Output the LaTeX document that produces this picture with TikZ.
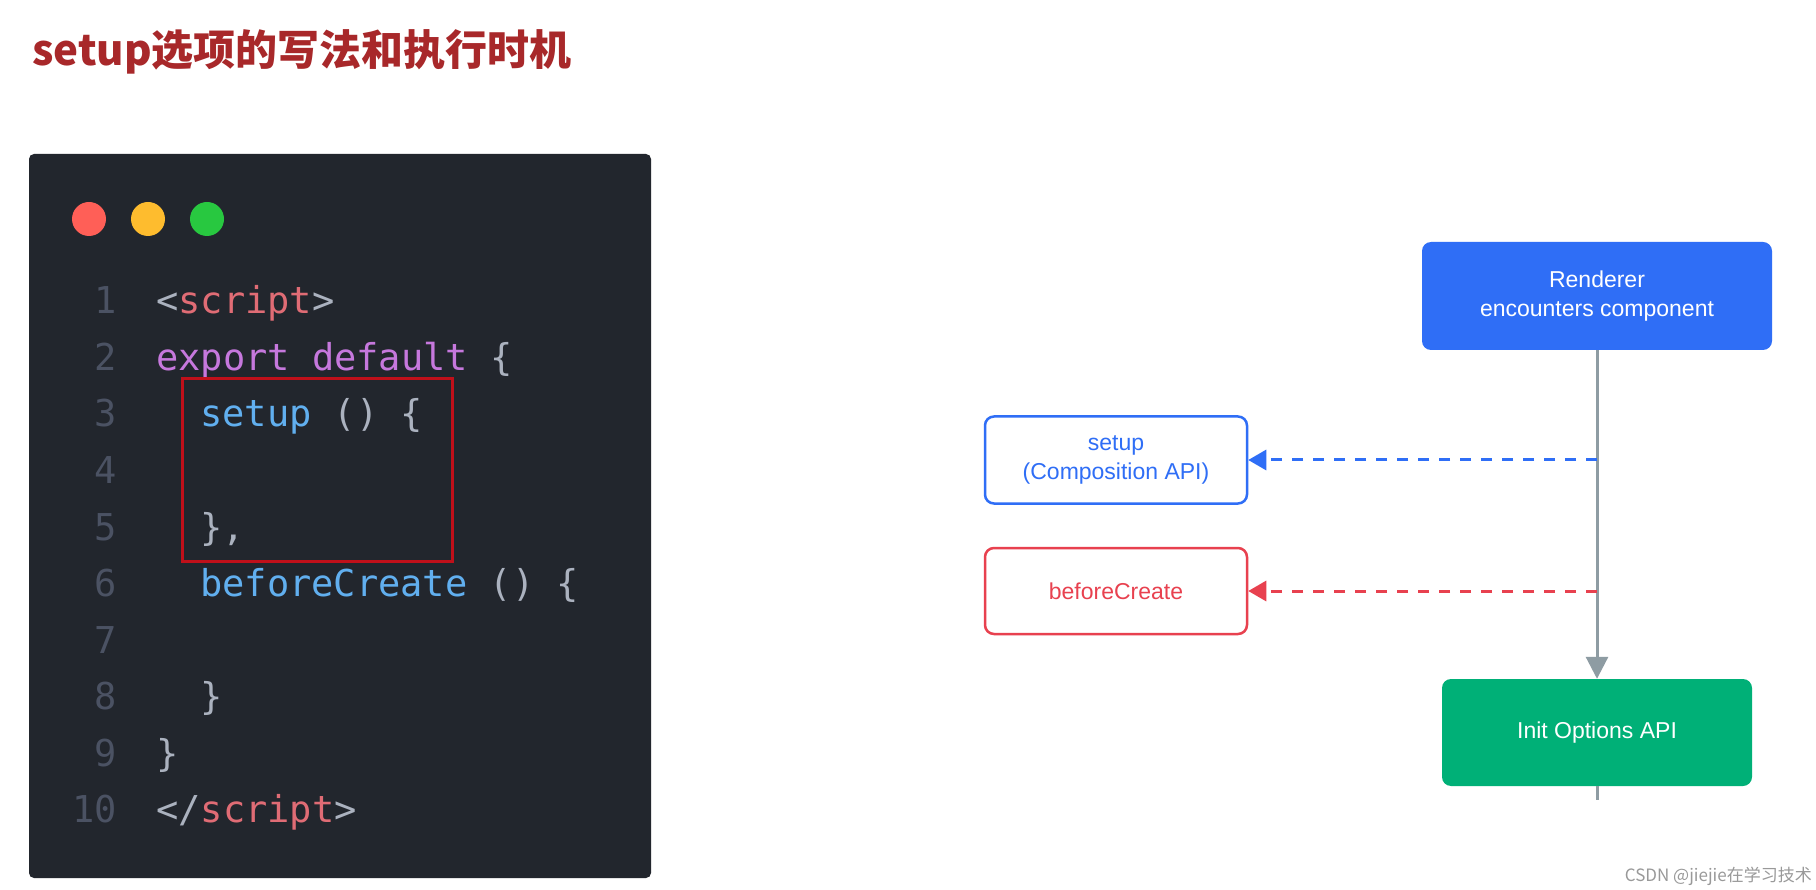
\documentclass[tikz,border=0pt]{standalone}
\usepackage{fontspec}
\setmainfont{Liberation Sans}
\newfontfamily\cjk{Noto Sans CJK SC}
\newfontfamily\codefont{DejaVu Sans Mono}
\usetikzlibrary{arrows.meta}
\definecolor{bg}{HTML}{22262D}
\definecolor{ctag}{HTML}{E06C75}
\definecolor{cpur}{HTML}{C678DD}
\definecolor{cblu}{HTML}{61AFEF}
\definecolor{cgry}{HTML}{ABB2BF}
\definecolor{cnum}{HTML}{4B5263}
\definecolor{ttl}{HTML}{A8282A}
\definecolor{bblue}{HTML}{2F6EF6}
\definecolor{bred}{HTML}{E8414F}
\definecolor{bgreen}{HTML}{00B077}
\definecolor{lgray}{HTML}{8E9CA3}
\definecolor{dred}{HTML}{FF5F57}
\definecolor{dyel}{HTML}{FEBC2E}
\definecolor{dgrn}{HTML}{28C840}
\definecolor{hbox}{HTML}{C0101A}
\begin{document}
\begin{tikzpicture}[x=1pt,y=-1pt,
  code/.style={anchor=base west,inner sep=0pt,font=\codefont\fontsize{37}{37}\selectfont},
  num/.style={anchor=base east,inner sep=0pt,text=cnum,font=\codefont\fontsize{37}{37}\selectfont},
  box/.style={draw,line width=2.5pt,rounded corners=9pt,align=center,font=\fontsize{23}{29}\selectfont},
  solid box/.style={rounded corners=9pt,align=center,text=white,font=\fontsize{23}{29}\selectfont},
  dasharrow/.style={line width=3pt,dash pattern=on 11pt off 10pt,-{Triangle[length=18pt,width=20pt]}}]
\useasboundingbox (0,0) rectangle (1816,890);
\fill[white] (0,0) rectangle (1816,890);
\node[anchor=base west,inner sep=0pt,text=ttl,font=\cjk\bfseries\fontsize{42}{42}\selectfont] (title) at (32,66) {setup选项的写法和执行时机};
\fill[bg,rounded corners=5pt] (29,154) rectangle (651,878);
\fill[dred] (89,219) circle (17);
\fill[dyel] (148,219) circle (17);
\fill[dgrn] (207,219) circle (17);
\foreach \i in {1,...,10} {\node[num] (n\i) at (117,{314+56.5*(\i-1)}) {\i};}
\node[code] (l1) at (156,314) {\textcolor{cgry}{<}\textcolor{ctag}{script}\textcolor{cgry}{>}};
\node[code] (l2) at (156,370.5) {\textcolor{cpur}{export default} \textcolor{cgry}{\{}};
\node[code] (l3) at (200,427) {\textcolor{cblu}{setup} \textcolor{cgry}{() \{}};
\node[code] (l5) at (200,540) {\textcolor{cgry}{\},}};
\node[code] (l6) at (200,596.5) {\textcolor{cblu}{beforeCreate} \textcolor{cgry}{() \{}};
\node[code] (l8) at (200,709.5) {\textcolor{cgry}{\}}};
\node[code] (l9) at (156,766) {\textcolor{cgry}{\}}};
\node[code] (l10) at (156,822.5) {\textcolor{cgry}{</}\textcolor{ctag}{script}\textcolor{cgry}{>}};
\draw[hbox,line width=3pt] (182,379) rectangle (452,561);
% right diagram
\node[solid box,fill=bblue,minimum width=350pt,minimum height=108pt] (r) at (1597,296) {Renderer\\encounters component};
\node[box,draw=bblue,text=bblue,minimum width=262pt,minimum height=87pt] (s) at (1116,460) {setup\\(Composition API)};
\node[box,draw=bred,text=bred,minimum width=262pt,minimum height=86pt] (b) at (1116,591) {beforeCreate};
\node[solid box,fill=bgreen,minimum width=310pt,minimum height=107pt] (g) at (1597,732.5) {Init Options API};
\coordinate (e) at (1597,800);
\coordinate (js) at (1597,460);
\coordinate (jb) at (1597,591);
\draw[lgray,line width=3pt,-{Triangle[length=22pt,width=22pt]}] (r.south) -- (g.north);
\draw[lgray,line width=3pt] (g.south) -- (e);
\draw[dasharrow,bblue] (js) -- (s.east);
\draw[dasharrow,bred] (jb) -- (b.east);
\node[anchor=south east,inner sep=2pt,text=black!40,font=\cjk\fontsize{17}{17}\selectfont] (wm) at (1814,888) {CSDN @jiejie在学习技术};
\end{tikzpicture}
\end{document}
